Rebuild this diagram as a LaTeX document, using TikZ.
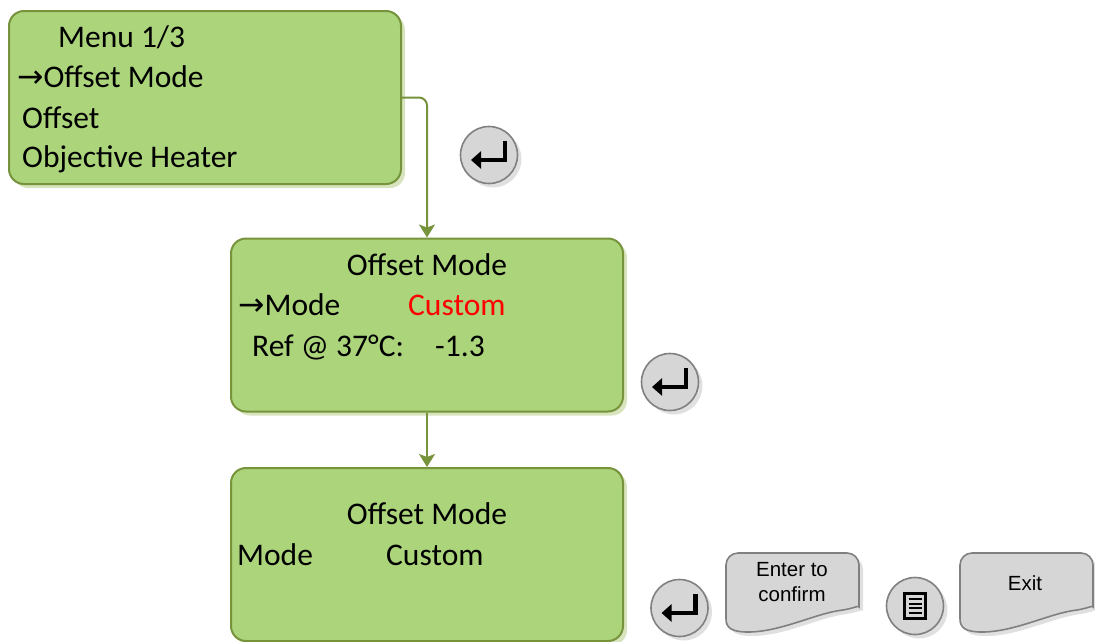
\documentclass[tikz,border=0pt]{standalone}
\usepackage{fontspec}
\setmainfont{Carlito}
\newfontfamily\arrowfont{DejaVu Sans}
\newfontfamily\keyfont{Liberation Sans}
\usetikzlibrary{arrows.meta,shadows}
\definecolor{lcdfill}{HTML}{ABD47B}
\definecolor{lcdline}{HTML}{77933C}
\definecolor{lcdshade}{HTML}{D7E4BD}
\definecolor{keyfill}{HTML}{D6D6D6}
\definecolor{keyline}{HTML}{808080}
\definecolor{keyshade}{HTML}{E0E0E0}
\newcommand{\pointer}{{\arrowfont →}}
\tikzset{
  lcd/.style={draw=lcdline, fill=lcdfill, line width=2pt, rounded corners=15pt,
    minimum width=392pt, minimum height=173pt, inner sep=0pt,
    drop shadow={shadow xshift=4pt, shadow yshift=-4pt, fill=lcdshade, opacity=1}},
  lcdtext/.style={anchor=base west, inner sep=0pt, font=\fontsize{31.5}{38}\selectfont},
  link/.style={draw=lcdline, line width=2pt, rounded corners=8pt,
    -{Stealth[length=13pt, width=16pt, inset=3pt]}},
  roundkey/.style={circle, draw=keyline, fill=keyfill, line width=1.6pt,
    minimum size=57pt, inner sep=0pt,
    drop shadow={shadow xshift=4pt, shadow yshift=-4pt, fill=keyshade, opacity=1}},
  keybody/.style={draw=keyline, fill=keyfill, line width=1.6pt,
    drop shadow={shadow xshift=4pt, shadow yshift=-4pt, fill=keyshade, opacity=1}},
  keytext/.style={font=\keyfont\fontsize{20.5}{25.5}\selectfont, align=center, inner sep=0pt},
  retarrow/.style={line width=4.2pt, line join=miter, -{Triangle[length=10pt, width=17pt]}},
  softkey/.pic={
    \draw[keybody] (0,66) [rounded corners=12pt]-- (0,0) -- (133,0) -- (133,42) [sharp corners]
      .. controls (133,52) and (129,55) .. (117,57)
      .. controls (90,60) and (55,79) .. (22,79)
      .. controls (6,79) and (0,75) .. (0,66) -- cycle;
  }
}
\begin{document}
\begin{tikzpicture}[x=1pt, y=-1pt]
\useasboundingbox (0,0) rectangle (1095,641);
\node[lcd] (menu) at (205,97.5) {};
\node[lcd] (offsetmode) at (427,325) {};
\node[lcd] (confirmed) at (427,554.5) {};
\draw[link] (menu.east) -| (offsetmode.north);
\draw[link] (offsetmode.south) -- (confirmed.north);
\node[lcdtext] (menutitle) at (58,47) {Menu 1/3};
\node[lcdtext] (menuitemA) at (17,87.5) {\pointer Offset Mode};
\node[lcdtext] (menuitemB) at (22,128) {Offset};
\node[lcdtext] (menuitemC) at (22,167) {Objective Heater};
\node[lcdtext, anchor=base] (modetitle) at (427,275) {Offset Mode};
\node[lcdtext] (modeline) at (238,315) {\pointer Mode};
\node[lcdtext, text=red] (modevalue) at (408,315) {Custom};
\node[lcdtext] (refline) at (252,356) {Ref @ 37°C:};
\node[lcdtext] (refvalue) at (435,356) {-1.3};
\node[lcdtext, anchor=base] (donetitle) at (427,524) {Offset Mode};
\node[lcdtext] (doneline) at (237,565) {Mode};
\node[lcdtext] (donevalue) at (386,565) {Custom};
\node[roundkey] (enterA) at (489,155) {};
\node[roundkey] (enterB) at (670,382) {};
\node[roundkey] (enterC) at (679.5,608) {};
\node[roundkey] (menukey) at (915,606) {};
\foreach \k in {enterA,enterB,enterC}
  \draw[retarrow] ([shift={(16,-14)}]\k.center) -- ++(0,19) -- ++(-34,0);
\draw[line width=2.2pt] ([shift={(-10.5,-12.5)}]menukey.center) rectangle ++(21,25);
\foreach \dy in {-7,-2.3,2.3,7}
  \draw[line width=2pt] ([shift={(-6.5,\dy)}]menukey.center) -- ++(13,0);
\pic at (726,553) {softkey};
\pic at (960,553) {softkey};
\node[keytext] (confirmlabel) at (792,582) {Enter to\\confirm};
\node[keytext] (exitlabel) at (1025,583) {Exit};
\end{tikzpicture}
\end{document}
